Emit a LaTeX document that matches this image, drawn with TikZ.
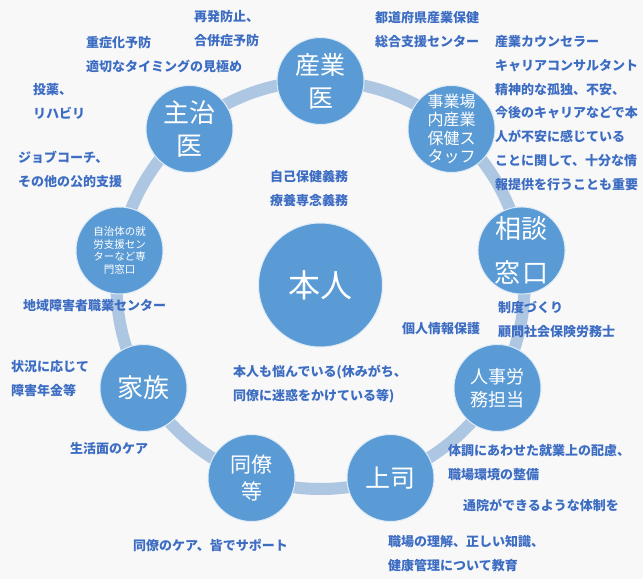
\documentclass[tikz,border=0pt]{standalone}
\usepackage{fontspec}
\usepackage{xcolor}
\usepackage{tikz}
\usetikzlibrary{positioning}
\newfontfamily\jpfont{Noto Sans CJK JP}
\definecolor{paper}{HTML}{F8F8F8}
\definecolor{ringline}{HTML}{ADC6E1}
\definecolor{hubfill}{HTML}{5B9BD5}
\definecolor{notetext}{HTML}{3D6DC3}

\begin{document}
\begin{tikzpicture}[
    x=1pt, y=-1pt,
    ring/.style={ringline, line width=12pt},
    hub/.style 2 args={circle, fill=hubfill, draw=white!80!hubfill, line width=1pt,
      minimum size=87pt, inner sep=0pt, align=center, text=white,
      font=\jpfont\fontsize{#1}{#2}\selectfont},
    note/.style={font=\jpfont\bfseries\fontsize{13}{24}\selectfont, text=notetext,
      align=left, anchor=west, inner sep=0pt}]

  \fill[paper] (0,0) rectangle (643,579);
  \useasboundingbox (0,0) rectangle (643,579);

  % The ring that joins everyone around the person.
  \coordinate (mid) at (320.5,285);
  \draw[ring] (mid) circle[radius=204pt];

  % The person in the middle.
  \node[hub={32}{36}, minimum size=124pt] (honnin) at (mid) {本人};

  % Supporters on the ring, every 40 degrees.
  \node[hub={25}{33}] (sangyoi) at (320.5,81) {産業\\医};
  \node[hub={16}{18.4}] (jigyoba) at (451.5,129) {事業場\\内産業\\保健ス\\タッフ};
  \node[hub={26}{44}] (sodan) at (521.5,250.5) {相談\\窓\hspace{3pt}口};
  \node[hub={18}{23}] (jinji) at (497.5,388) {人事労\\務担当};
  \node[hub={25}{30}] (joshi) at (390.5,478) {上司};
  \node[hub={21}{27}] (doryo) at (251.5,478) {同僚\\等};
  \node[hub={26}{30}] (kazoku) at (143.5,388) {家族};
  \node[hub={10.5}{12.7}] (jichitai) at (119.5,250.5) {自治体の就\\労支援セン\\ターなど専\\門窓口};
  \node[hub={26}{33}] (shujii) at (189.5,129) {主治\\医};

  % What each of them can do.
  \node[note] (saihatsu) at (194,28.5) {再発防止、\\合併症予防};
  \node[note] (jushoka) at (86,55) {重症化予防\\適切なタイミングの見極め};
  \node[note] (toyaku) at (33,101) {投薬、\\リハビリ};
  \node[note] (jobcoach) at (18,169.5) {ジョブコーチ、\\その他の公的支援};
  \node[note] (gimu) at (270,189) {自己保健義務\\療養専念義務};
  \node[note] (todofuken) at (375,29.5) {都道府県産業保健\\総合支援センター};
  \node[note, font=\jpfont\bfseries\fontsize{13}{23.7}\selectfont] (counselor) at (495,113)
    {産業カウンセラー\\キャリアコンサルタント\\精神的な孤独、不安、\\今後のキャリアなどで本\\人が不安に感じている\\ことに関して、十分な情\\報提供を行うことも重要};
  \node[note] (chiiki) at (23,306) {地域障害者職業センター};
  \node[note] (nenkin) at (11,379) {状況に応じて\\障害年金等};
  \node[note] (nayami) at (233,384.5) {本人も悩んでいる(休みがち、\\同僚に迷惑をかけている等)};
  \node[note] (seido) at (498,320) {制度づくり\\顧問社会保険労務士};
  \node[note] (kojin) at (402,329) {個人情報保護};
  \node[note] (seikatsu) at (70,449) {生活面のケア};
  \node[note] (minade) at (133,545) {同僚のケア、皆でサポート};
  \node[note] (hairyo) at (448,462.5) {体調にあわせた就業上の配慮、\\職場環境の整備};
  \node[note] (tsuin) at (463,505) {通院ができるような体制を};
  \node[note] (kyoiku) at (388,553.5) {職場の理解、正しい知識、\\健康管理について教育};
\end{tikzpicture}
\end{document}
